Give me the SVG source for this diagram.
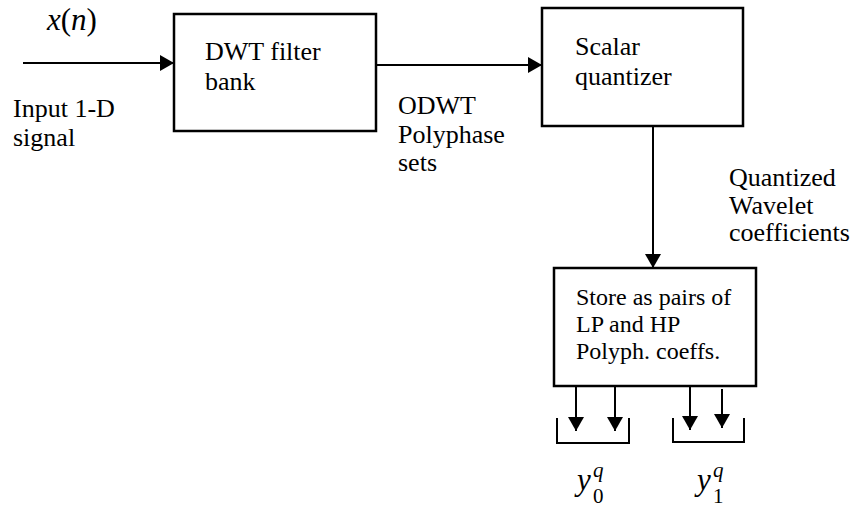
<svg xmlns="http://www.w3.org/2000/svg" width="857" height="508" viewBox="0 0 857 508">
<style>
.box{fill:#fff;stroke:#000;stroke-width:2.5}
.ln{stroke:#000;stroke-width:2;fill:none}
.t{font-size:26px}
.s{font-size:24px}
.m{font-size:31px;font-style:italic}
.up{font-style:normal}
.sub{font-size:21px}
.sup{font-size:21px;font-style:italic}
</style>
<defs>
<marker id="ah" markerWidth="14" markerHeight="16" refX="14" refY="8" orient="auto" markerUnits="userSpaceOnUse">
<path d="M0,0 L14,8 L0,16 Z" fill="#000"/>
</marker>
</defs>
<g id="connectors">
<line class="ln" x1="23" y1="63" x2="174" y2="63" marker-end="url(#ah)"/>
<line class="ln" x1="376" y1="65" x2="542" y2="65" marker-end="url(#ah)"/>
<line class="ln" x1="653" y1="126" x2="653" y2="268" marker-end="url(#ah)"/>
<line class="ln" x1="576" y1="386" x2="576" y2="431" marker-end="url(#ah)"/>
<line class="ln" x1="615" y1="386" x2="615" y2="431" marker-end="url(#ah)"/>
<line class="ln" x1="690" y1="386" x2="690" y2="430" marker-end="url(#ah)"/>
<line class="ln" x1="722" y1="389" x2="722" y2="428" marker-end="url(#ah)"/>
<polyline class="ln" points="557,418 557,443 629,443 629,418"/>
<polyline class="ln" points="673,418 673,442 744,442 744,418"/>
</g>
<g font-family="Times New Roman, Liberation Serif, serif" fill="#000">
<g id="input-label">
<text class="m" x="47" y="30">x<tspan class="up">(</tspan>n<tspan class="up">)</tspan></text>
<text class="t" x="13" y="117">Input 1-D</text>
<text class="t" x="13" y="146">signal</text>
</g>
<g id="dwt">
<rect class="box" x="174" y="14" width="202" height="117"/>
<text class="t" x="205" y="60">DWT filter</text>
<text class="t" x="205" y="90">bank</text>
</g>
<g id="odwt-label">
<text class="t" x="398" y="114">ODWT</text>
<text class="t" x="398" y="143">Polyphase</text>
<text class="t" x="398" y="171">sets</text>
</g>
<g id="quantizer">
<rect class="box" x="542" y="8" width="201" height="118"/>
<text class="t" x="575" y="55">Scalar</text>
<text class="t" x="575" y="85">quantizer</text>
</g>
<g id="quant-label">
<text class="t" x="729" y="186">Quantized</text>
<text class="t" x="729" y="214">Wavelet</text>
<text class="t" x="729" y="241">coefficients</text>
</g>
<g id="store">
<rect class="box" x="554" y="268" width="202" height="118"/>
<text class="s" x="576" y="305">Store as pairs of</text>
<text class="s" x="576" y="332">LP and HP</text>
<text class="s" x="576" y="359">Polyph. coeffs.</text>
</g>
<g id="y0">
<text class="m" x="577" y="490">y</text>
<text class="sup" x="593" y="477">q</text>
<text class="sub" x="593" y="503">0</text>
</g>
<g id="y1">
<text class="m" x="697" y="490">y</text>
<text class="sup" x="713" y="477">q</text>
<text class="sub" x="713" y="503">1</text>
</g>
</g>
</svg>
